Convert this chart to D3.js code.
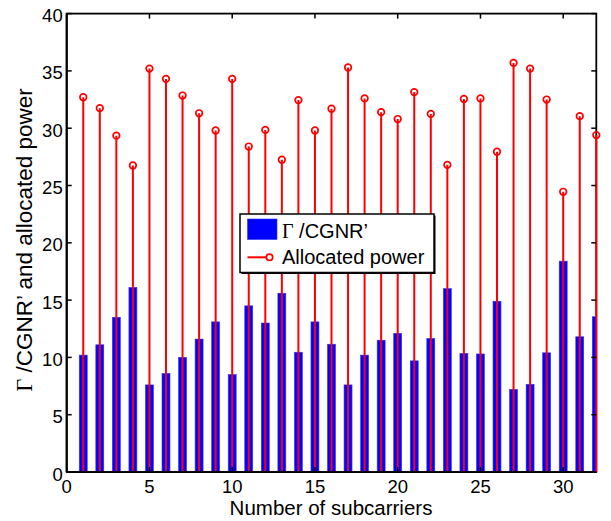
<!DOCTYPE html>
<html>
<head>
<meta charset="utf-8">
<script src="https://d3js.org/d3.v7.min.js"></script>
<style>
  html, body { margin: 0; padding: 0; background: #fff; }
  svg { display: block; }
  text { font-family: "Liberation Sans", Arial, sans-serif; fill: #000; }
</style>
</head>
<body>
<script>
// Subcarrier indices
const subcarriers = d3.range(1, 33);

// Γ/CGNR' per subcarrier (bars)
const gammaCGNR = [10.2, 11.1, 13.5, 16.1, 7.6, 8.6, 10.0, 11.6, 13.1, 8.5,
                   14.5, 13.0, 15.6, 10.45, 13.1, 11.15, 7.6, 10.2, 11.5, 12.1,
                   9.7, 11.65, 16.0, 10.35, 10.3, 14.9, 7.2, 7.65, 10.4, 18.4,
                   11.8, 13.55];

// Allocated power per subcarrier (stems)
const allocatedPower = [32.7, 31.75, 29.35, 26.75, 35.2, 34.3, 32.85, 31.3, 29.8, 34.3,
                        28.4, 29.85, 27.25, 32.45, 29.8, 31.7, 35.3, 32.6, 31.4, 30.8,
                        33.15, 31.25, 26.8, 32.55, 32.6, 27.95, 35.7, 35.2, 32.5, 24.45,
                        31.05, 29.4];

const xTicks = [0, 5, 10, 15, 20, 25, 30];
const yTicks = [0, 5, 10, 15, 20, 25, 30, 35, 40];

const W = 611, H = 521;
const plotL = 66.7, plotR = 596.3, plotT = 13.6, plotB = 472;

const svg = d3.select("body").append("svg")
  .attr("width", W).attr("height", H);

svg.append("rect").attr("width", W).attr("height", H).attr("fill", "#fff");

const x = d3.scaleLinear().domain([0, 32]).range([plotL, plotR]);
const y = d3.scaleLinear().domain([0, 40]).range([plotB, plotT]);

svg.append("defs").append("clipPath").attr("id", "plotClip")
  .append("rect")
  .attr("x", plotL).attr("y", plotT)
  .attr("width", plotR - plotL).attr("height", plotB - plotT);

// Axes box (drawn beneath the data)
svg.append("rect")
  .attr("x", plotL).attr("y", plotT)
  .attr("width", plotR - plotL).attr("height", plotB - plotT)
  .attr("fill", "none").attr("stroke", "#000").attr("stroke-width", 1.8);

// Bars
const barW = (x(1) - x(0)) * 0.48;
svg.append("g").attr("clip-path", "url(#plotClip)")
  .selectAll("rect").data(subcarriers).join("rect")
  .attr("x", (d) => x(d) - barW / 2)
  .attr("y", (d, i) => y(gammaCGNR[i]))
  .attr("width", barW)
  .attr("height", (d, i) => y(0) - y(gammaCGNR[i]))
  .attr("fill", "#0000ff")
  .attr("stroke", "#3030ff").attr("stroke-width", 0.6);

// Stems
const stems = svg.append("g");
stems.selectAll("line").data(subcarriers).join("line")
  .attr("x1", (d) => x(d)).attr("x2", (d) => x(d))
  .attr("y1", y(0))
  .attr("y2", (d, i) => y(allocatedPower[i]))
  .attr("stroke", "#ff0000").attr("stroke-width", 2);
stems.selectAll("circle").data(subcarriers).join("circle")
  .attr("cx", (d) => x(d))
  .attr("cy", (d, i) => y(allocatedPower[i]))
  .attr("r", 3.3)
  .attr("fill", "none")
  .attr("stroke", "#ff0000").attr("stroke-width", 1.7);

// Bottom and left axis lines over the bars
svg.append("line").attr("x1", plotL).attr("x2", plotR - 3)
  .attr("y1", plotB).attr("y2", plotB)
  .attr("stroke", "#000").attr("stroke-width", 2);
svg.append("line").attr("x1", plotL).attr("x2", plotL)
  .attr("y1", plotT).attr("y2", plotB)
  .attr("stroke", "#000").attr("stroke-width", 2);

// Inward ticks on all four sides
const tickLen = 5;
const tk = svg.append("g").attr("stroke", "#000").attr("stroke-width", 1.5);
xTicks.forEach((t) => {
  tk.append("line").attr("x1", x(t)).attr("x2", x(t))
    .attr("y1", plotB).attr("y2", plotB - tickLen);
  tk.append("line").attr("x1", x(t)).attr("x2", x(t))
    .attr("y1", plotT).attr("y2", plotT + tickLen);
});
yTicks.forEach((t) => {
  tk.append("line").attr("x1", plotL).attr("x2", plotL + tickLen)
    .attr("y1", y(t)).attr("y2", y(t));
  tk.append("line").attr("x1", plotR).attr("x2", plotR - tickLen)
    .attr("y1", y(t)).attr("y2", y(t));
});

// Tick labels
svg.append("g").selectAll("text").data(xTicks).join("text")
  .attr("x", (d) => x(d)).attr("y", 493)
  .attr("text-anchor", "middle")
  .style("font-size", "18.5px")
  .text((d) => d);
svg.append("g").selectAll("text").data(yTicks).join("text")
  .attr("x", plotL - 4).attr("y", (d) => y(d) + 8.5)
  .attr("text-anchor", "end")
  .style("font-size", "18.5px")
  .text((d) => d);

// Axis titles
svg.append("text")
  .attr("x", 331).attr("y", 514.5)
  .attr("text-anchor", "middle")
  .style("font-size", "20.5px")
  .text("Number of subcarriers");

const yl = svg.append("text")
  .attr("transform", "translate(32,240) rotate(-90)")
  .attr("text-anchor", "middle")
  .style("font-size", "22.5px");
yl.append("tspan").style("font-family", "'Liberation Serif', 'Times New Roman', serif").text("Γ");
yl.append("tspan").text(" /CGNR’ and allocated power");

// Legend
const lg = svg.append("g");
lg.append("rect").attr("x", 241.5).attr("y", 215.5).attr("width", 194).attr("height", 58.5)
  .attr("fill", "#000");
lg.append("rect").attr("x", 240).attr("y", 214).attr("width", 194).attr("height", 58.5)
  .attr("fill", "#fff").attr("stroke", "#000").attr("stroke-width", 1.5);
lg.append("rect").attr("x", 247.5).attr("y", 219).attr("width", 29.5).attr("height", 20.5)
  .attr("fill", "#0000ff").attr("stroke", "#3030ff").attr("stroke-width", 0.6);
const t1 = lg.append("text").attr("x", 282).attr("y", 237.5).style("font-size", "20px");
t1.append("tspan").style("font-family", "'Liberation Serif', 'Times New Roman', serif").text("Γ");
t1.append("tspan").text(" /CGNR’");
lg.append("line").attr("x1", 247.5).attr("x2", 269.5).attr("y1", 257.3).attr("y2", 257.3)
  .attr("stroke", "#ff0000").attr("stroke-width", 2);
lg.append("circle").attr("cx", 269.5).attr("cy", 257.3).attr("r", 3.2)
  .attr("fill", "#fff").attr("stroke", "#ff0000").attr("stroke-width", 1.7);
lg.append("text").attr("x", 282).attr("y", 264).style("font-size", "20px").text("Allocated power");
</script>
</body>
</html>
